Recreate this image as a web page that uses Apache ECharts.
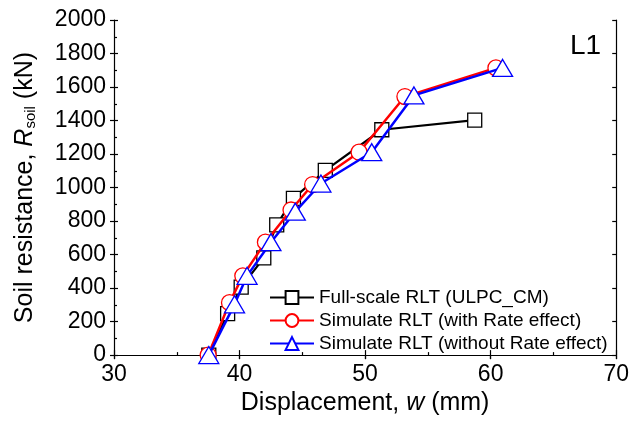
<!DOCTYPE html>
<html>
<head>
<meta charset="utf-8">
<script src="https://cdn.jsdelivr.net/npm/echarts@6/dist/echarts.min.js"></script>
<style>html,body{margin:0;padding:0;background:#fff}#c{width:632px;height:421px}</style>
</head>
<body>
<div id="c"></div>
<script>
const seriesNames = ['Full-scale RLT (ULPC_CM)', 'Simulate RLT (with Rate effect)', 'Simulate RLT (without Rate effect)'];
const fullScaleX = [37.55, 39.05, 40.13, 41.93, 42.96, 44.29, 46.83, 51.33, 58.73];
const fullScaleY = [0, 248, 406, 580, 777, 935, 1102, 1345, 1402];
const withRateX = [37.5, 39.2, 40.26, 42.06, 44.1, 45.82, 49.52, 53.17, 60.42];
const withRateY = [0, 313, 473, 674, 866, 1018, 1211, 1543, 1714];
const withoutRateX = [37.55, 39.6, 40.6, 42.5, 44.44, 46.48, 50.53, 53.89, 60.95];
const withoutRateY = [0, 303, 473, 674, 856, 1024, 1211, 1550, 1714];
const xTicks = [30, 40, 50, 60, 70];
const yTicks = [0, 200, 400, 600, 800, 1000, 1200, 1400, 1600, 1800, 2000];

const pair = (xs, ys) => xs.map((x, i) => [x, ys[i]]);
const FONT = 'Liberation Sans, Arial, sans-serif';
const xMin = xTicks[0], xMax = xTicks[xTicks.length - 1];
const yMin = yTicks[0], yMax = yTicks[yTicks.length - 1];
const xInt = xTicks[1] - xTicks[0], yInt = yTicks[1] - yTicks[0];
const lineStyleAxis = { color: '#000', width: 1.2 };

const chart = echarts.init(document.getElementById('c'), null, { renderer: 'canvas' });
const baseX = { type: 'value', min: xMin, max: xMax, interval: xInt, splitLine: { show: false } };
const baseY = { type: 'value', min: yMin, max: yMax, interval: yInt, splitLine: { show: false } };

chart.setOption({
  animation: false,
  backgroundColor: '#fff',
  grid: { left: 114, right: 12, top: 20, bottom: 63, containLabel: false },
  xAxis: [
    Object.assign({}, baseX, {
      position: 'bottom',
      axisLine: { show: true, lineStyle: lineStyleAxis },
      axisTick: { show: true, inside: false, length: 4, lineStyle: lineStyleAxis },
      axisLabel: { fontSize: 23, color: '#000', fontFamily: FONT, margin: 8, formatter: v => String(v) },
      name: '{a|Displacement, }{i|w}{a| (mm)}',
      nameLocation: 'middle', nameGap: 32,
      nameTextStyle: { rich: {
        a: { fontSize: 25, fontFamily: FONT, color: '#000' },
        i: { fontSize: 25, fontFamily: FONT, color: '#000', fontStyle: 'italic' } } }
    }),
    Object.assign({}, baseX, {
      position: 'bottom',
      axisLine: { show: false },
      axisTick: { show: true, inside: true, length: 5, lineStyle: lineStyleAxis },
      minorTick: { show: true, splitNumber: 2, length: 3, lineStyle: lineStyleAxis },
      axisLabel: { show: false }
    }),
    Object.assign({}, baseX, {
      position: 'top',
      axisLine: { show: true, lineStyle: lineStyleAxis },
      axisTick: { show: true, inside: true, length: 4, lineStyle: lineStyleAxis },
      axisLabel: { show: false }
    })
  ],
  yAxis: [
    Object.assign({}, baseY, {
      position: 'left',
      axisLine: { show: true, lineStyle: lineStyleAxis },
      axisTick: { show: true, inside: false, length: 4, lineStyle: lineStyleAxis },
      axisLabel: { fontSize: 23, color: '#000', fontFamily: FONT, margin: 8, formatter: v => String(v) },
      name: '{a|Soil resistance, }{i|R}{s|soil}{a| (kN)}',
      nameLocation: 'middle', nameGap: 76,
      nameTextStyle: { rich: {
        a: { fontSize: 25, fontFamily: FONT, color: '#000' },
        i: { fontSize: 25, fontFamily: FONT, color: '#000', fontStyle: 'italic' },
        s: { fontSize: 15, fontFamily: FONT, color: '#000', verticalAlign: 'bottom', padding: [8, 0, 0, 0] } } }
    }),
    Object.assign({}, baseY, {
      position: 'left',
      axisLine: { show: false },
      axisTick: { show: true, inside: true, length: 4, lineStyle: lineStyleAxis },
      minorTick: { show: true, splitNumber: 2, length: 3, lineStyle: lineStyleAxis },
      axisLabel: { show: false }
    }),
    Object.assign({}, baseY, {
      position: 'right',
      axisLine: { show: true, lineStyle: lineStyleAxis },
      axisTick: { show: true, inside: true, length: 4, lineStyle: lineStyleAxis },
      axisLabel: { show: false }
    })
  ],
  legend: {
    left: 264, top: 283, orient: 'vertical',
    itemWidth: 44, itemHeight: 16, itemGap: 4,
    textStyle: { fontSize: 19, fontFamily: FONT, color: '#000' },
    data: seriesNames
  },
  graphic: [{
    type: 'text', left: 570, top: 32,
    style: { text: 'L1', fontSize: 28, fontFamily: FONT, fill: '#000' }
  }],
  series: [
    {
      name: seriesNames[0], type: 'line', data: pair(fullScaleX, fullScaleY),
      symbol: 'rect', symbolSize: 14, z: 3,
      lineStyle: { color: '#000', width: 2.2 },
      itemStyle: { color: '#fff', borderColor: '#000', borderWidth: 1.3 }
    },
    {
      name: seriesNames[1], type: 'line', data: pair(withRateX, withRateY),
      symbol: 'circle', symbolSize: 16, z: 4,
      lineStyle: { color: '#ff0000', width: 2.5 },
      itemStyle: { color: '#fff', borderColor: '#ff0000', borderWidth: 1.3 }
    },
    {
      name: seriesNames[2], type: 'line', data: pair(withoutRateX, withoutRateY),
      symbol: 'triangle', symbolSize: [20, 17], z: 5,
      lineStyle: { color: '#0000ff', width: 2.5 },
      itemStyle: { color: '#fff', borderColor: '#0000ff', borderWidth: 1.3 }
    }
  ]
});
</script>
</body>
</html>
